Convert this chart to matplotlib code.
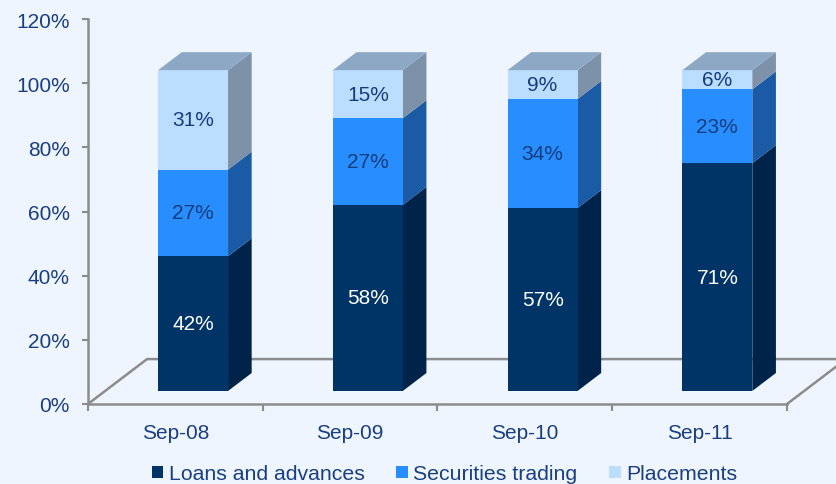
import matplotlib
matplotlib.use('Agg')
import matplotlib.pyplot as plt
from matplotlib.patches import Polygon, Rectangle

# chart data
periods = ['Sep-08', 'Sep-09', 'Sep-10', 'Sep-11']
loans = [42, 58, 57, 71]
securities = [27, 27, 34, 23]
placements = [31, 15, 9, 6]
series_names = ['Loans and advances', 'Securities trading', 'Placements']
y_ticks = [0, 20, 40, 60, 80, 100, 120]

front_cols = ['#003366', '#288EFF', '#BBDDFF']
side_cols = ['#00234A', '#1B5AA5', '#7D91A9']
top_col = '#8DA8C5'
label_cols = ['white', '#143C7C', '#143C7C']
bg = '#EEF5FE'
navy = '#1A3E80'
grey = '#8C8C8C'

plt.rcParams['font.family'] = ['Liberation Sans', 'DejaVu Sans']

fig = plt.figure(figsize=(8.37, 4.85), dpi=100, facecolor=bg)
ax = fig.add_axes([88 / 837, 80 / 485, 699 / 837, 385 / 485])
ax.set_facecolor(bg)
ax.set_xlim(-0.5, 3.5)
ax.set_ylim(0, 120)

# fake 3d depth (data units)
depth_x, depth_y = 0.338, 14.0
front_frac, bar_frac = 0.30, 0.40
bar_w = 0.40

# floor outline
fx = [-0.5, -0.5 + depth_x, 3.5 + depth_x, 3.5]
fy = [0, depth_y, depth_y, 0]
ax.plot(fx, fy, color=grey, lw=1.8, clip_on=False, zorder=1)

sx = depth_x * front_frac
sy = depth_y * 0.29
bx = depth_x * bar_frac
by = depth_y * bar_frac

series = [loans, securities, placements]
for i, name in enumerate(periods):
    x0 = i - bar_w / 2 + sx
    x1 = x0 + bar_w
    base = sy
    for k, vals in enumerate(series):
        v = vals[i]
        y0, y1 = base, base + v
        side = Polygon([(x1, y0), (x1 + bx, y0 + by), (x1 + bx, y1 + by), (x1, y1)],
                       closed=True, fc=side_cols[k], ec='none', zorder=2, clip_on=False)
        ax.add_patch(side)
        ax.add_patch(Rectangle((x0, y0), bar_w, v, fc=front_cols[k], ec='none',
                               zorder=3, clip_on=False))
        ax.text((x0 + x1) / 2, (y0 + y1) / 2, f'{v}%', ha='center', va='center',
                fontsize=15, color=label_cols[k], zorder=5)
        base = y1
    top = Polygon([(x0, base), (x1, base), (x1 + bx, base + by), (x0 + bx, base + by)],
                  closed=True, fc=top_col, ec='none', zorder=3, clip_on=False)
    ax.add_patch(top)

# axes styling
for s in ['top', 'right']:
    ax.spines[s].set_visible(False)
for s in ['left', 'bottom']:
    ax.spines[s].set_color(grey)
    ax.spines[s].set_linewidth(1.8)

ax.set_yticks(y_ticks)
ax.set_yticklabels([f'{t}%' for t in y_ticks])
ax.tick_params(axis='y', colors=grey, length=4, width=1.5, pad=9, labelsize=15,
               labelcolor=navy)

ax.set_xticks(range(len(periods)))
ax.set_xticklabels(periods)
ax.set_xticks([-0.5, 0.5, 1.5, 2.5, 3.5], minor=True)
ax.tick_params(axis='x', which='major', length=0, pad=14, labelsize=15, labelcolor=navy)
ax.tick_params(axis='x', which='minor', length=5, width=1.5, color=grey)

handles = [Rectangle((0, 0), 1, 1, fc=c, ec='none') for c in front_cols]
leg = fig.legend(handles, series_names, loc='center', bbox_to_anchor=(0.531, 10 / 485),
                 ncol=3, frameon=False, fontsize=15.3, handlelength=0.55, handleheight=0.55,
                 handletextpad=0.25, columnspacing=1.5)
for t in leg.get_texts():
    t.set_color(navy)

fig.savefig('out.png', dpi=100, facecolor=bg)
